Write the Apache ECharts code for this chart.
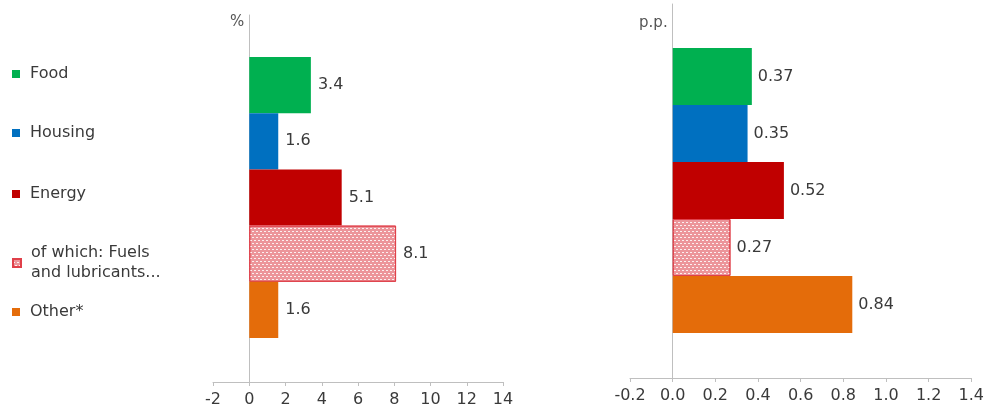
<!DOCTYPE html>
<html>
<head>
<meta charset="utf-8">
<script src="https://cdn.jsdelivr.net/npm/echarts@6/dist/echarts.min.js"></script>
<style>
    html, body { margin: 0; padding: 0; background: #fff; }
    #chart { width: 987px; height: 410px; }
</style>
</head>
<body>
<div id="chart"></div>
<script>
var categories = ['Food', 'Housing', 'Energy', 'of which: Fuels\nand lubricants...', 'Other*'];
var inflation = [3.4, 1.6, 5.1, 8.1, 1.6];        // annual change, %
var contribution = [0.37, 0.35, 0.52, 0.27, 0.84]; // contribution, p.p.
var colors = ['#00b050', '#0070c0', '#c00000', '#ec959a', '#e46c0a'];
var legendCenters = [74, 133, 194, 253, 312];

var font = 'DejaVu Sans';
var axisGray = '#bfbfbf';
var textGray = '#3a3a3a';

var myChart = echarts.init(document.getElementById('chart'));

function itemStyleFor(i) {
    var style = {color: colors[i]};
    if (i === 3) {
        style.borderColor = '#e0404a';
        style.borderWidth = 1;
        style.decal = {
            symbol: 'rect',
            symbolSize: 1,
            color: 'rgba(255,255,255,0.85)',
            dashArrayX: [[2, 2], [0, 2, 2, 0]],
            dashArrayY: [1, 2],
            rotation: 0
        };
    }
    return style;
}

function oneBar(values, i) {
    var data = [];
    for (var j = 0; j < categories.length; j++) {
        data.push(j === i ? values[j] : '-');
    }
    return data;
}

var series = [];
var legends = [];
for (var i = 0; i < categories.length; i++) {
    series.push({
        name: categories[i],
        type: 'bar',
        xAxisIndex: 1,
        yAxisIndex: 1,
        stack: 'left',
        barCategoryGap: '0%',
        data: oneBar(inflation, i),
        itemStyle: itemStyleFor(i),
        label: {
            show: true,
            position: 'right',
            distance: 7,
            fontSize: 16,
            fontFamily: font,
            color: textGray
        }
    });
    series.push({
        name: categories[i],
        type: 'bar',
        xAxisIndex: 3,
        yAxisIndex: 3,
        stack: 'right',
        barCategoryGap: '0%',
        data: oneBar(contribution, i),
        itemStyle: itemStyleFor(i),
        label: {
            show: true,
            position: 'right',
            distance: 6,
            fontSize: 16,
            fontFamily: font,
            color: textGray,
            formatter: function (p) {
                return p.value.toFixed(2);
            }
        }
    });
    legends.push({
        data: [categories[i]],
        left: 12,
        top: legendCenters[i] - 10,
        padding: 0,
        icon: 'rect',
        itemWidth: 8,
        itemHeight: 8,
        selectedMode: false,
        textStyle: {
            fontSize: 16,
            lineHeight: 20,
            fontFamily: font,
            color: textGray,
            padding: [0, 0, 0, 5]
        }
    });
}

function valueAxis(grid, min, max, interval, digits) {
    return {
        type: 'value',
        gridIndex: grid,
        min: min,
        max: max,
        interval: interval,
        axisLine: {show: true, onZero: false, lineStyle: {color: axisGray, width: 1}},
        axisTick: {show: true, length: 4, lineStyle: {color: axisGray}},
        splitLine: {show: false},
        axisLabel: {
            margin: 10,
            fontSize: 16,
            fontFamily: font,
            color: textGray,
            formatter: function (v) {
                return v.toFixed(digits);
            }
        }
    };
}

function hiddenValue(grid, min, max) {
    return {type: 'value', gridIndex: grid, min: min, max: max, show: false};
}

function unitAxis(grid, name, gap) {
    return {
        type: 'value',
        gridIndex: grid,
        min: 0,
        max: 1,
        name: name,
        nameLocation: 'end',
        nameGap: gap,
        nameTextStyle: {
            fontSize: 15,
            fontFamily: font,
            color: '#555555',
            align: 'right',
            verticalAlign: 'middle',
            padding: [0, 5, 0, 0]
        },
        axisLine: {show: true, onZero: true, lineStyle: {color: axisGray, width: 1}},
        axisTick: {show: false},
        axisLabel: {show: false},
        splitLine: {show: false}
    };
}

function hiddenCategory(grid) {
    return {type: 'category', gridIndex: grid, data: categories, inverse: true, show: false};
}

myChart.setOption({
    animation: false,
    legend: legends,
    grid: [
        {left: 213, right: 484, top: 15, bottom: 28},
        {left: 213, right: 484, top: 57, bottom: 72},
        {left: 630, right: 15, top: 4, bottom: 32},
        {left: 630, right: 15, top: 48, bottom: 77}
    ],
    xAxis: [
        valueAxis(0, -2, 14, 2, 0),
        hiddenValue(1, -2, 14),
        valueAxis(2, -0.2, 1.4, 0.2, 1),
        hiddenValue(3, -0.2, 1.4)
    ],
    yAxis: [
        unitAxis(0, '%', -7),
        hiddenCategory(1),
        unitAxis(2, 'p.p.', -19),
        hiddenCategory(3)
    ],
    series: series
});
</script>
</body>
</html>
